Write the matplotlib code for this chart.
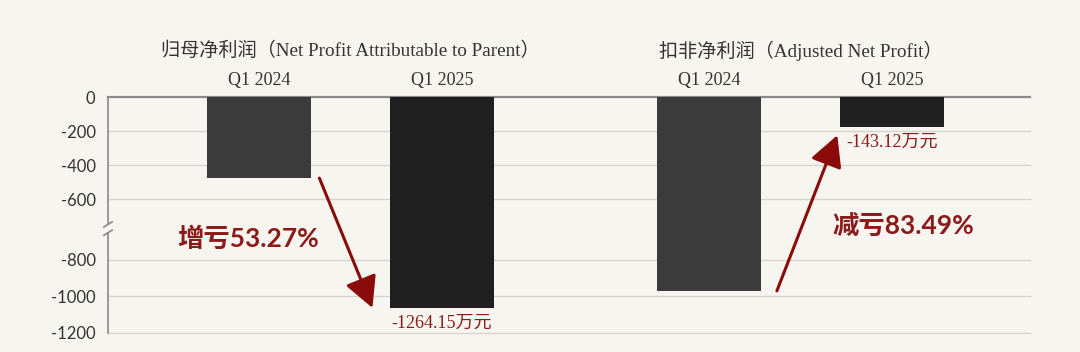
import numpy as np
import matplotlib
matplotlib.use("Agg")
import matplotlib.pyplot as plt
import matplotlib.transforms as mtransforms

# === Data ===
group_titles = ["归母净利润（Net Profit Attributable to Parent）",
                "扣非净利润（Adjusted Net Profit）"]
periods = ["Q1 2024", "Q1 2025"]
# bar heights as drawn on the broken axis
parent_values = [-475, -1063]
adjusted_values = [-970, -176]
value_labels = ["-1264.15万元", "-143.12万元"]
change_labels = ["增亏53.27%", "减亏83.49%"]
yticks = [0, -200, -400, -600, -800, -1000, -1200]

BG = "#f7f5f0"
RED = "#8b1a1a"
TEXT = "#333333"
bar_colors = ["#3b3b3b", "#202020"]

serif = ["Liberation Serif", "Noto Sans CJK SC"]
sans = ["Lato", "Noto Sans CJK SC"]


# --- piecewise scale: compress the -600 .. -800 gap ---
def fwd(v):
    v = np.asarray(v, dtype=float)
    return np.where(v >= -600, v * 0.17,
                    np.where(v >= -800, -102 + (v + 600) * 0.3,
                             -162 + (v + 800) * 0.1825))


def inv(p):
    p = np.asarray(p, dtype=float)
    return np.where(p >= -102, p / 0.17,
                    np.where(p >= -162, -600 + (p + 102) / 0.3,
                             -800 + (p + 162) / 0.1825))


fig = plt.figure(figsize=(10.8, 3.52), dpi=100, facecolor=BG)
ax = fig.add_axes([0.1, 0.054, 0.8537, 0.6704], facecolor=BG)
ax.set_yscale("function", functions=(fwd, inv))

# bar positions
gap = 0.46
x_pos = [0, 1, 2 + gap, 3 + gap]
width = 0.57
values = parent_values + adjusted_values
for i, (x, v) in enumerate(zip(x_pos, values)):
    ax.bar(x, v, width=width, color=bar_colors[i % 2], zorder=3)

ax.set_xlim(-0.825, 4.213)
ax.set_ylim(-1200, 0)

# grid
for t in yticks:
    if t == 0:
        ax.axhline(t, color="#8a8a8a", lw=1.6, zorder=2, clip_on=False)
    else:
        ax.axhline(t, color="#d6d4d0", lw=1.0, zorder=1, clip_on=False)

ax.set_yticks(yticks)
ax.set_yticklabels([str(t) for t in yticks], family=sans, fontsize=12, color=TEXT)
ax.tick_params(axis="y", length=0, pad=9)
ax.minorticks_off()

ax.xaxis.tick_top()
ax.set_xticks(x_pos)
ax.set_xticklabels(periods * 2, family=serif, fontsize=13, color=TEXT)
ax.tick_params(axis="x", length=0, pad=6)

for s in ["top", "right", "bottom", "left"]:
    ax.spines[s].set_visible(False)

# left spine with break marks
lw_sp = 1.2
sp_col = "#8a8a8a"
ax.plot([0, 0], [0, 0.425], transform=ax.transAxes, color=sp_col, lw=lw_sp, clip_on=False)
ax.plot([0, 0], [0.46, 1], transform=ax.transAxes, color=sp_col, lw=lw_sp, clip_on=False)
dx, dy = 0.0045, 0.011
for yb in [0.425, 0.46]:
    ax.plot([-dx, dx], [yb - dy, yb + dy], transform=ax.transAxes,
            color=sp_col, lw=lw_sp, clip_on=False)

# group titles
blend = mtransforms.blended_transform_factory(ax.transData, ax.transAxes)
for g, title in enumerate(group_titles):
    cx = (x_pos[2 * g] + x_pos[2 * g + 1]) / 2
    ax.text(cx, 1.195, title, transform=blend, ha="center", va="center",
            family=serif, fontsize=13.8, color=TEXT)

# value labels under the latest bars
shift = ax.transData + mtransforms.ScaledTranslation(0, -5 / 72, fig.dpi_scale_trans)
ax.text(x_pos[1], parent_values[1], value_labels[0], ha="center", va="top",
        family=serif, fontsize=13, color=RED, zorder=4, transform=shift)
ax.text(x_pos[3], adjusted_values[1], value_labels[1], ha="center", va="top",
        family=serif, fontsize=13, color=RED, zorder=4, transform=shift)

# arrows
arrow_kw = dict(arrowstyle="-|>,head_length=1.9,head_width=1.0", color="#8b0a0a",
                lw=2.2, shrinkA=0, shrinkB=0)
ax.annotate("", xy=(x_pos[1] - 0.38, parent_values[1]),
            xytext=(x_pos[0] + 0.33, parent_values[0]), arrowprops=arrow_kw, zorder=5)
ax.annotate("", xy=(x_pos[3] - 0.30, -224),
            xytext=(x_pos[2] + 0.37, adjusted_values[0]), arrowprops=arrow_kw, zorder=5)

# change annotations
ax.text(-0.06, -730, change_labels[0], ha="center", va="center", family=sans,
        fontsize=19, fontweight="bold", color=RED, zorder=5)
ax.text(3.52, -687, change_labels[1], ha="center", va="center", family=sans,
        fontsize=19, fontweight="bold", color=RED, zorder=5)

fig.savefig("out.png", dpi=100, facecolor=BG)
